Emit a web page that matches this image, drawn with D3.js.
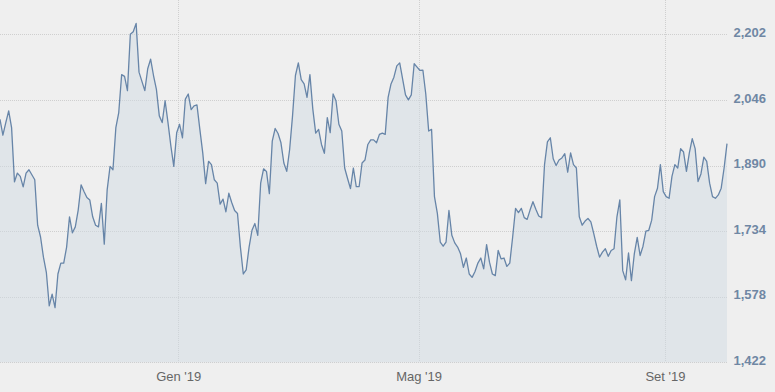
<!DOCTYPE html>
<html>
<head>
<meta charset="utf-8">
<script src="https://cdn.jsdelivr.net/npm/d3@7"></script>
<style>
  html, body { margin: 0; padding: 0; background: #efefef; }
  #chart svg { display: block; }
  .grid line { stroke: #cfcfcf; stroke-width: 1; stroke-dasharray: 1,1; shape-rendering: crispEdges; }
  .axis text { font-family: "Liberation Sans", Arial, sans-serif; font-size: 13px; }
  .axis.y text { fill: #6f87a4; font-weight: bold; }
  .axis.x text { fill: #666; }
  .axis path, .axis line { display: none; }
</style>
</head>
<body>
<div id="chart"></div>
<script>
var wd = 775;
var ht = 392;
var margin = { top: 34, right: 48, bottom: 30, left: 0 };

// first and last trading day of the series
var startDate = new Date(2018, 9, 4);
var endDate = new Date(2019, 9, 2);

// daily closes
var values = [
  2000,1962,1992,2020,1980,1851,1872,1864,1839,1872,
  1880,1868,1856,1748,1720,1672,1636,1556,1584,1552,
  1632,1658,1658,1696,1768,1730,1744,1784,1844,1828,
  1814,1808,1768,1748,1744,1800,1703,1832,1888,1880,
  1980,2016,2106,2102,
  2068,2202,2208,2228,2112,2090,2068,2120,2143,2104,
  2071,2008,1992,2044,1992,1936,1888,1968,1988,1956,
  2048,2060,2023,2032,2034,1976,1920,1847,1900,1892,
  1856,1848,1798,1810,1780,1824,1802,1783,1776,1696,
  1632,1642,1696,1736,1752,1724,1848,1882,1876,1823,
  1948,1978,1966,1944,1896,1876,1928,2008,2104,2134,
  2094,2084,2052,2106,2024,1967,1976,1940,1919,2004,
  1968,2060,2044,1988,1972,1884,1859,1835,1884,1840,
  1840,1896,1903,
  1940,1951,1951,1944,1964,1967,1964,2052,2084,2100,
  2127,2134,2096,2058,2046,2058,2132,2124,2116,2117,
  2060,1972,1976,1816,1776,1708,1698,1708,1783,1724,
  1706,1696,1680,1648,1670,1632,1624,1638,1658,1670,
  1644,
  1702,1660,1632,1628,1688,1668,1670,1650,1658,1720,
  1788,1778,1788,1766,1762,1784,1804,1786,1770,1766,
  1892,1946,1956,1906,1890,1903,1908,1918,1874,1920,
  1892,1884,1768,1748,1758,1764,1756,1728,1698,1672,
  1684,1692,
  1674,1688,1692,1768,1808,1640,1618,1682,1616,1680,
  1719,1676,1698,1734,1736,1760,1816,1836,1892,1828,
  1816,1812,1864,1892,1884,1930,1922,1876,1920,1954,
  1930,1852,1870,1910,1900,1848,1816,1812,1820,1836,
  1884,1942
];

var yTicks = [1422, 1578, 1734, 1890, 2046, 2202];
var xTickDates = [new Date(2019, 0, 1), new Date(2019, 4, 1), new Date(2019, 8, 1)];
var xTickLabels = ["Gen '19", "Mag '19", "Set '19"];

// spread the points evenly between the first and last day
var step = (endDate - startDate) / (values.length - 1);
var data = values.map(function(v, i) {
  return { date: new Date(+startDate + i * step), value: v };
});

var svg = d3.select("#chart").append("svg").attr("width", wd).attr("height", ht);

var plotRight = 728;
var xScale = d3.scaleTime().domain([startDate, endDate]).range([margin.left, 727]);
var yScale = d3.scaleLinear().domain([1422, 2202]).range([ht - margin.bottom + 0.3, margin.top + 0.3]);

// horizontal grid
svg.append("g").attr("class", "grid")
  .selectAll("line").data(yTicks).enter().append("line")
  .attr("x1", 0).attr("x2", plotRight)
  .attr("y1", function(d) { return Math.round(yScale(d)) + 0.5; })
  .attr("y2", function(d) { return Math.round(yScale(d)) + 0.5; });

// vertical grid
svg.append("g").attr("class", "grid")
  .selectAll("line").data(xTickDates).enter().append("line")
  .attr("x1", function(d) { return Math.round(xScale(d)) + 0.5; })
  .attr("x2", function(d) { return Math.round(xScale(d)) + 0.5; })
  .attr("y1", 0).attr("y2", yScale(1422));

var area = d3.area()
  .x(function(d) { return xScale(d.date); })
  .y0(yScale(1422))
  .y1(function(d) { return yScale(d.value); });

var line = d3.line()
  .x(function(d) { return xScale(d.date); })
  .y(function(d) { return yScale(d.value); });

svg.append("path").datum(data)
  .attr("d", area)
  .attr("fill", "#cfd9e2")
  .attr("fill-opacity", 0.45);

svg.append("path").datum(data)
  .attr("d", line)
  .attr("fill", "none")
  .attr("stroke", "#6785a8")
  .attr("stroke-width", 1.3)
  .attr("stroke-linejoin", "round");

var yAxis = d3.axisRight(yScale).tickValues(yTicks).tickFormat(d3.format(",")).tickSize(0).tickPadding(0);
var yG = svg.append("g").attr("class", "axis y").attr("transform", "translate(766,-2)").call(yAxis);
yG.selectAll("text").attr("text-anchor", "end").attr("x", 0);

var xAxis = d3.axisBottom(xScale).tickValues(xTickDates)
  .tickFormat(function(d, i) { return xTickLabels[i]; }).tickSize(0).tickPadding(0);
var xG = svg.append("g").attr("class", "axis x").attr("transform", "translate(0,372)").call(xAxis);
</script>
</body>
</html>
